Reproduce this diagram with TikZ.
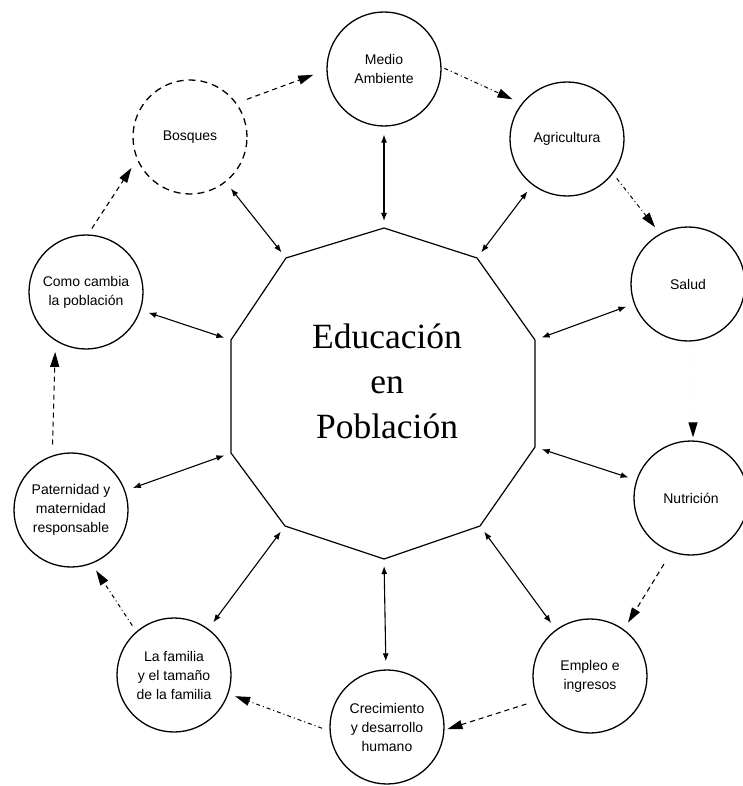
\documentclass[tikz,border=0pt]{standalone}
\usepackage{fontspec}
\setmainfont{Liberation Serif}
\newfontfamily\circfont{Liberation Sans}
\usetikzlibrary{arrows.meta}
\begin{document}
\begin{tikzpicture}[x=1pt,y=1pt,
  topic/.style={circle, draw, line width=1.3pt, minimum size=114pt, inner sep=0pt, align=center, font=\circfont\fontsize{14}{19}\selectfont},
  dashtopic/.style={topic, dash pattern=on 7pt off 5pt},
  both/.style={line width=1.1pt, {Latex[length=8pt,width=6pt]}-{Latex[length=8pt,width=6pt]}, shorten <=8pt, shorten >=7pt},
  ringdash/.style={line width=1.1pt, dash pattern=on 5pt off 4pt, -{Triangle[length=15pt,width=9pt]}},
  ringdot/.style={line width=1pt, dash pattern=on 4pt off 3pt on 1pt off 3pt, -{Triangle[length=15pt,width=9pt]}},
  faintarrow/.style={line width=1pt, draw=black!12, dash pattern=on 1pt off 10pt, -{Triangle[length=15pt,width=9pt,color=black]}},
]
\useasboundingbox (0,0) rectangle (743,-786);

% central decagon
\coordinate (v0) at (384,-228);
\coordinate (v1) at (477,-258);
\coordinate (v2) at (535,-340);
\coordinate (v3) at (535,-447);
\coordinate (v4) at (480,-526);
\coordinate (v5) at (384,-559);
\coordinate (v6) at (285,-526);
\coordinate (v7) at (231,-453);
\coordinate (v8) at (231,-340);
\coordinate (v9) at (286,-258);
\draw[line width=1.2pt] (v0) -- (v1) -- (v2) -- (v3) -- (v4) -- (v5) -- (v6) -- (v7) -- (v8) -- (v9) -- cycle;
\node[font=\fontsize{35.5}{45}\selectfont, align=center] (edu) at (387,-381) {Educación\\en\\Población};

% topic circles
\node[dashtopic] (bos) at (190,-137) {Bosques};
\node[topic] (med) at (384,-69) {Medio\\Ambiente};
\node[topic] (agr) at (567,-139) {Agricultura};
\node[topic] (sal) at (688,-284) {Salud};
\node[topic] (nut) at (691,-498) {Nutrición};
\node[topic] (emp) at (590,-676) {Empleo e\\ingresos};
\node[topic] (cre) at (387,-727) {Crecimiento\\y desarrollo\\humano};
\node[topic] (fam) at (174,-675) {La familia\\y el tamaño\\de la familia};
\node[topic] (pat) at (71,-510) {Paternidad y\\maternidad\\responsable};
\node[topic] (com) at (86,-292) {Como cambia\\la población};

% radial double arrows
\draw[both] (med) -- (v0);
\draw[both] (agr) -- (v1);
\draw[both] (sal) -- (v2);
\draw[both] (nut) -- (v3);
\draw[both] (emp) -- (v4);
\draw[both] (cre) -- (v5);
\draw[both] (fam) -- (v6);
\draw[both] (pat) -- (v7);
\draw[both] (com) -- (v8);
\draw[both] (bos) -- (v9);

% ring arrows
\draw[ringdash, shorten <=11pt, shorten >=14pt] (bos.36) -- (med.181);
\draw[ringdot, shorten <=3pt, shorten >=10pt] (med.2) -- (agr.142);
\draw[ringdot, shorten <=6pt, shorten >=8pt] (agr.-37) -- (sal.119);
\draw[faintarrow, shorten <=3pt, shorten >=3pt] (sal.-85) -- (nut.88);
\draw[ringdash, shorten <=14pt, shorten >=8pt] (nut.250) -- (emp.54);
\draw[ringdash, shorten <=12pt, shorten >=3pt] (emp.205) -- (cre.-3);
\draw[ringdot, shorten <=8pt, shorten >=7pt] (cre.184) -- (fam.-19);
\draw[ringdot, shorten <=7pt, shorten >=8pt] (fam.131) -- (pat.-69);
\draw[ringdash, shorten <=11pt, shorten >=11pt] (pat.109) -- (com.238);
\draw[ringdash, shorten <=7pt, shorten >=10pt] (com.88) -- (bos.203);
\end{tikzpicture}
\end{document}
